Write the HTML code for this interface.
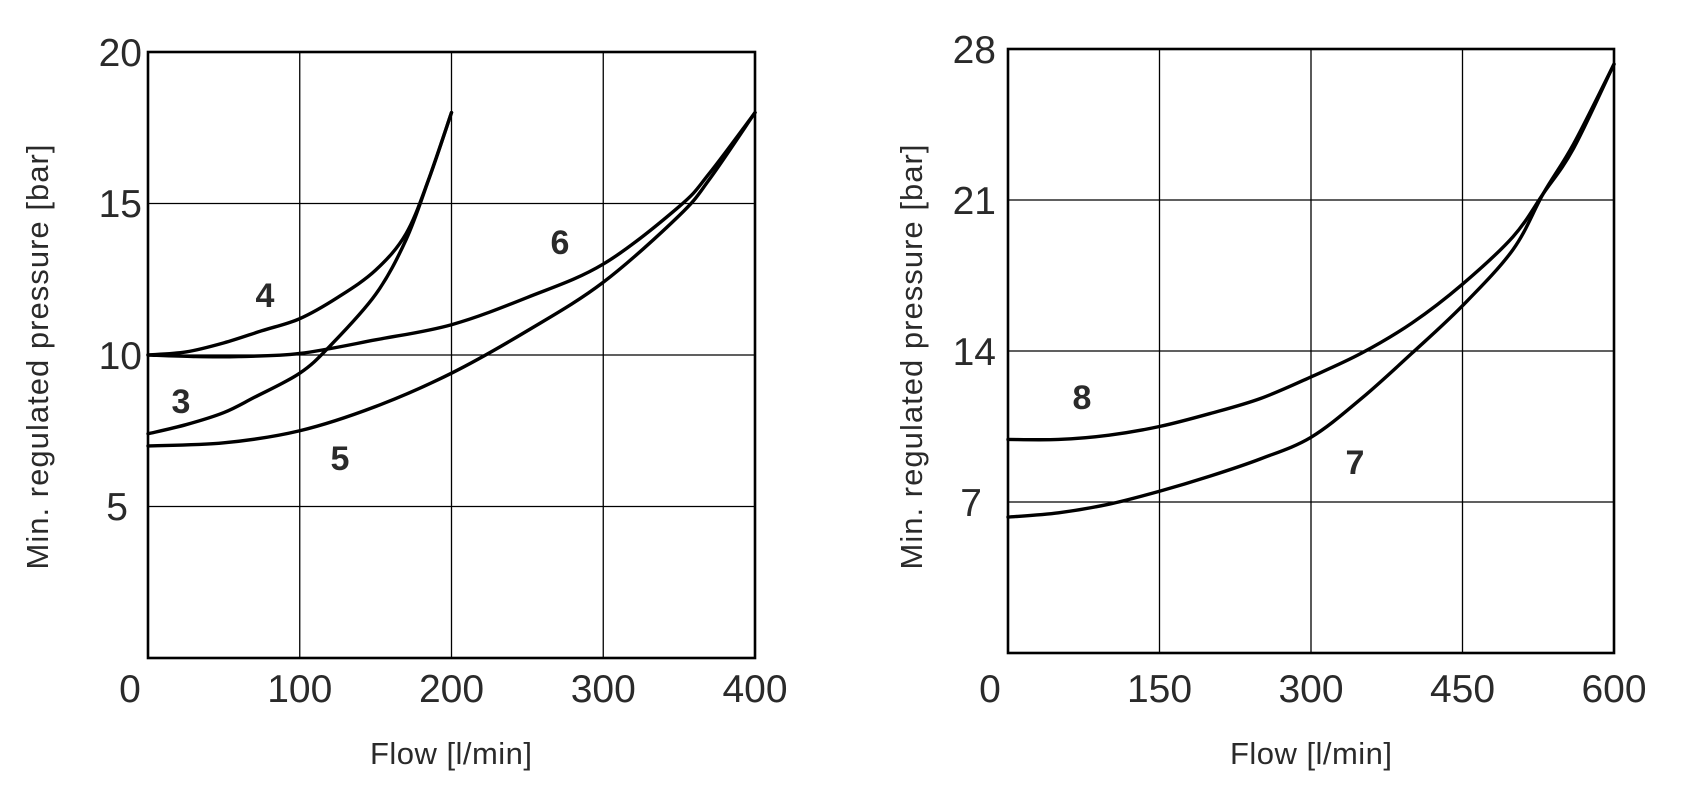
<!DOCTYPE html>
<html><head><meta charset="utf-8"><style>
html,body{margin:0;padding:0;background:#fff;}
svg{display:block;}
text{font-family:"Liberation Sans",sans-serif;fill:#2a2a2a;}
.t{font-size:39px;}
.a{font-size:31px;}
.n{font-size:34px;font-weight:bold;fill:#222;}
</style></head><body>
<svg id="s" width="1704" height="806" viewBox="0 0 1704 806" xmlns="http://www.w3.org/2000/svg">
<g stroke="#000" stroke-width="1.3">
<line x1="299.75" y1="52" x2="299.75" y2="658"/><line x1="451.5" y1="52" x2="451.5" y2="658"/><line x1="603.25" y1="52" x2="603.25" y2="658"/>
<line x1="148" y1="203.5" x2="755" y2="203.5"/><line x1="148" y1="355" x2="755" y2="355"/><line x1="148" y1="506.5" x2="755" y2="506.5"/>
<line x1="1159.5" y1="49" x2="1159.5" y2="653"/><line x1="1311" y1="49" x2="1311" y2="653"/><line x1="1462.5" y1="49" x2="1462.5" y2="653"/>
<line x1="1008" y1="200" x2="1614" y2="200"/><line x1="1008" y1="351" x2="1614" y2="351"/><line x1="1008" y1="502" x2="1614" y2="502"/>
</g>
<rect x="148" y="52" width="607" height="606" fill="none" stroke="#000" stroke-width="2.6"/>
<rect x="1008" y="49" width="606" height="604" fill="none" stroke="#000" stroke-width="2.6"/>
<g class="t" text-anchor="middle">
<text x="130" y="702">0</text><text x="299.75" y="702">100</text><text x="451.5" y="702">200</text><text x="603.25" y="702">300</text><text x="755" y="702">400</text>
<text x="990" y="702">0</text><text x="1159.5" y="702">150</text><text x="1311" y="702">300</text><text x="1462.5" y="702">450</text><text x="1614" y="702">600</text>
</g>
<g class="t" text-anchor="end">
<text x="142" y="66">20</text><text x="142" y="217">15</text><text x="142" y="369">10</text><text x="128" y="520">5</text>
<text x="996" y="63">28</text><text x="996" y="214">21</text><text x="996" y="365">14</text><text x="982" y="516">7</text>
</g>
<text class="a" x="451" y="764" text-anchor="middle" textLength="162">Flow [l/min]</text>
<text class="a" x="1311" y="764" text-anchor="middle" textLength="162">Flow [l/min]</text>
<text class="a" transform="translate(48,357) rotate(-90)" text-anchor="middle" textLength="425">Min. regulated pressure [bar]</text>
<text class="a" transform="translate(922,357) rotate(-90)" text-anchor="middle" textLength="425">Min. regulated pressure [bar]</text>
<g class="n" text-anchor="middle">
<text x="265" y="307">4</text><text x="181" y="413">3</text><text x="340" y="470">5</text><text x="560" y="254">6</text>
<text x="1082" y="409">8</text><text x="1355" y="474">7</text>
</g>
<g id="c" fill="none" stroke="#000" stroke-width="3.4" stroke-linejoin="round" stroke-linecap="round"></g>
</svg>
<script>
function L(p){return p.map(a=>[148+a[0]*1.5175,658-a[1]*30.3]);}
function R(p){return p.map(a=>[1008+a[0]*1.01,653-a[1]*21.57]);}
function path(P){let d="M"+P[0][0]+","+P[0][1];for(let i=0;i<P.length-1;i++){const p0=P[Math.max(i-1,0)],p1=P[i],p2=P[i+1],p3=P[Math.min(i+2,P.length-1)];
d+=" C"+(p1[0]+(p2[0]-p0[0])/6)+","+(p1[1]+(p2[1]-p0[1])/6)+" "+(p2[0]-(p3[0]-p1[0])/6)+","+(p2[1]-(p3[1]-p1[1])/6)+" "+p2[0]+","+p2[1];}return d;}
const curves=[
L([[0,10],[25,10.1],[50,10.4],[75,10.8],[100,11.2],[125,11.9],[150,12.8],[170,14],[185,15.8],[200,18]]),
L([[0,7.4],[25,7.7],[50,8.1],[70,8.6],[100,9.4],[120,10.3],[150,12],[170,13.8],[185,15.8],[200,18]]),
L([[0,10],[30,9.95],[60,9.95],[100,10.05],[150,10.5],[200,11],[250,11.9],[300,13],[350,14.9],[370,16],[400,18]]),
L([[0,7],[50,7.1],[100,7.5],[150,8.3],[200,9.4],[250,10.8],[300,12.4],[350,14.6],[370,15.8],[400,18]]),
R([[0,9.9],[50,9.9],[100,10.1],[150,10.5],[200,11.1],[250,11.8],[300,12.8],[350,13.9],[400,15.3],[450,17.1],[500,19.3],[530,21.3],[560,23.4],[600,27.3]]),
R([[0,6.3],[50,6.5],[100,6.9],[150,7.5],[200,8.2],[250,9],[300,10],[350,11.8],[400,13.9],[450,16.1],[500,18.7],[530,21.3],[560,23.6],[600,27.3]])];
const g=document.getElementById("c");
curves.forEach(P=>{const e=document.createElementNS("http://www.w3.org/2000/svg","path");e.setAttribute("d",path(P));g.appendChild(e);});
</script>
</body></html>
